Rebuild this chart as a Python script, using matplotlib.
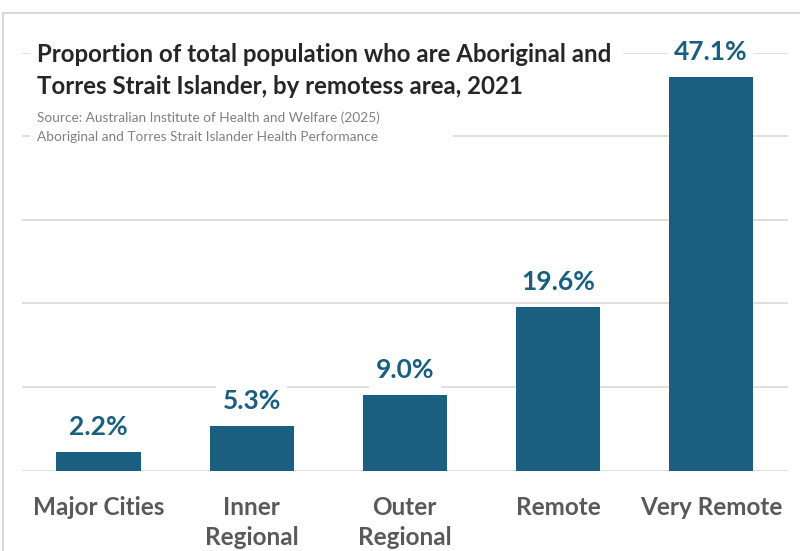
import matplotlib.pyplot as plt
from matplotlib.patches import Rectangle

# datos del grafico
categorias = ["Major Cities", "Inner\nRegional", "Outer\nRegional", "Remote", "Very Remote"]
porcentajes = [2.2, 5.3, 9.0, 19.6, 47.1]
etiquetas = ["2.2%", "5.3%", "9.0%", "19.6%", "47.1%"]

azul = "#1a5e80"
gris_texto = "#595959"
gris_linea = "#d9d9d9"

plt.rcParams['font.family'] = ['Lato', 'DejaVu Sans']

fig = plt.figure(figsize=(8, 5.51), dpi=100)
ax = fig.add_axes([0.0275, 0.146, 0.957, 0.758])

ax.bar(range(len(porcentajes)), porcentajes, width=0.55, color=azul, zorder=2)
ax.set_xlim(-0.5, len(porcentajes) - 0.5)
ax.set_ylim(0, 50)
ax.set_yticks(range(0, 51, 10))
ax.yaxis.grid(True, color=gris_linea, linewidth=1.2, zorder=0)
ax.set_axisbelow(True)
ax.tick_params(axis='y', left=False, labelleft=False)
ax.tick_params(axis='x', length=0, pad=18)
ax.set_xticks(range(len(categorias)))
ax.set_xticklabels(categorias, fontsize=17.5, fontweight='bold', color=gris_texto,
                   linespacing=1.4, va='top')
for lado in ['top', 'right', 'left', 'bottom']:
    ax.spines[lado].set_visible(False)

# etiquetas de valor sobre cada barra
for i, (v, txt) in enumerate(zip(porcentajes, etiquetas)):
    ax.annotate(txt, (i, v), xytext=(0, 18), textcoords='offset points',
                ha='center', va='center', fontsize=19, fontweight='bold', color=azul,
                bbox=dict(boxstyle='square,pad=0.25', facecolor='white', edgecolor='none'),
                zorder=4)

# cajas blancas detras del titulo y la fuente
W, H = 800, 551
fig.patches.append(Rectangle((30 / W, 1 - 102 / H), (623 - 30) / W, 72 / H,
                             transform=fig.transFigure, facecolor='white',
                             edgecolor='none', zorder=1))
fig.patches.append(Rectangle((30 / W, 1 - 150 / H), (453 - 30) / W, 48 / H,
                             transform=fig.transFigure, facecolor='white',
                             edgecolor='none', zorder=1))

fig.text(37 / W, 1 - 54 / H, "Proportion of total population who are Aboriginal and",
         fontsize=17.3, fontweight='bold', color='#262626', va='center', zorder=3)
fig.text(37 / W, 1 - 86 / H, "Torres Strait Islander, by remotess area, 2021",
         fontsize=17.3, fontweight='bold', color='#262626', va='center', zorder=3)
fig.text(37 / W, 1 - 118 / H, "Source: Australian Institute of Health and Welfare (2025)",
         fontsize=9.8, color='#808080', va='center', zorder=3)
fig.text(37 / W, 1 - 137 / H, "Aboriginal and Torres Strait Islander Health Performance",
         fontsize=9.8, color='#808080', va='center', zorder=3)

# borde del area del grafico
fig.add_artist(plt.Line2D([3 / W, 1], [1 - 13 / H, 1 - 13 / H], color=gris_linea,
                          linewidth=1.5, transform=fig.transFigure))
fig.add_artist(plt.Line2D([3 / W, 3 / W], [0, 1 - 13 / H], color=gris_linea,
                          linewidth=1.5, transform=fig.transFigure))

fig.savefig("out.png", dpi=100, facecolor='white')
